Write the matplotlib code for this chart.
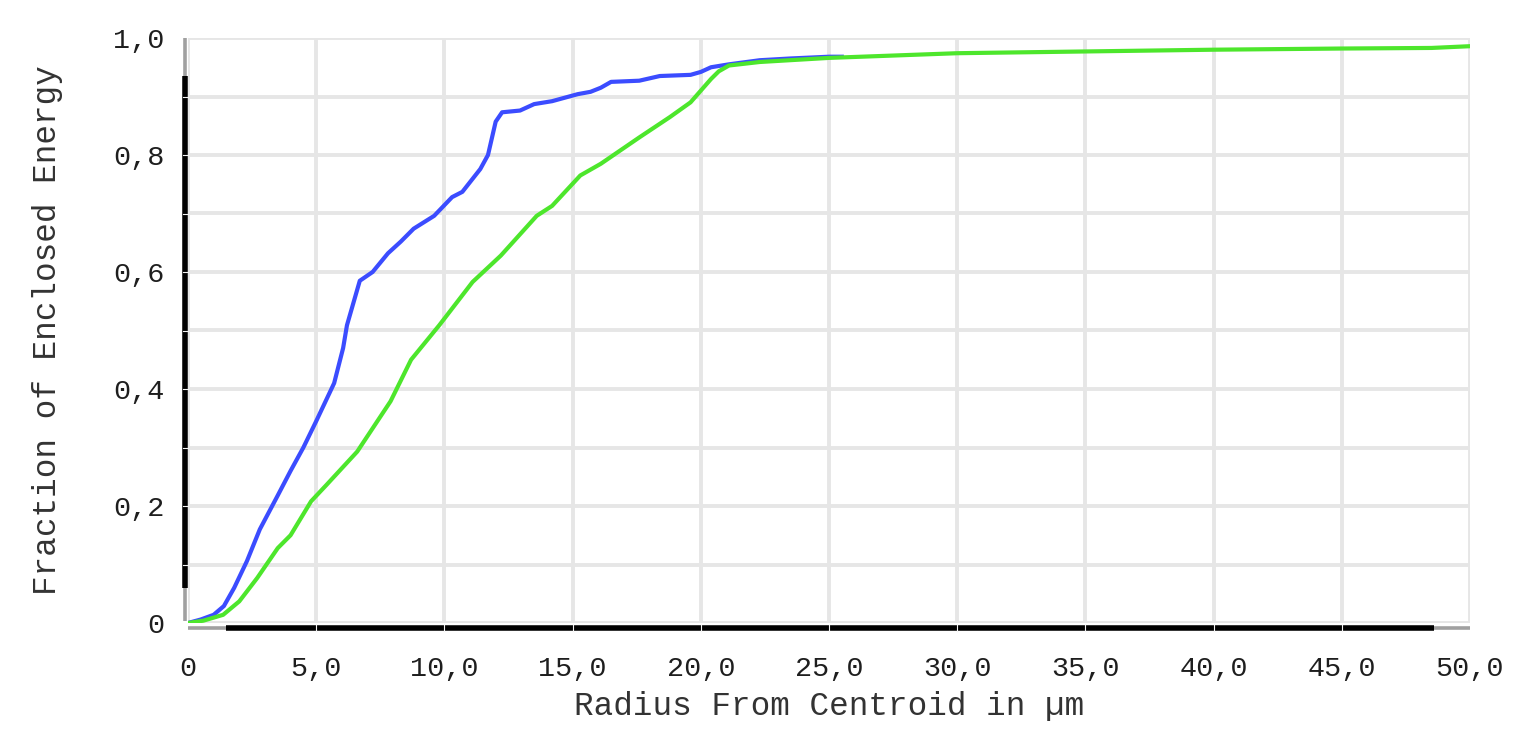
import matplotlib
matplotlib.use("Agg")
import matplotlib.pyplot as plt
from matplotlib.ticker import MultipleLocator, FuncFormatter

# Data
blue_x = [0.0, 0.5, 1.0, 1.4, 1.8, 2.3, 2.8, 3.5, 4.0, 4.5, 5.0, 5.7, 6.05, 6.2, 6.7, 7.2,
          7.8, 8.3, 8.8, 9.6, 10.3, 10.7, 11.4, 11.7, 12.0, 12.25, 12.95, 13.5, 14.2, 15.2,
          15.7, 16.1, 16.5, 17.6, 18.4, 19.6, 20.0, 20.4, 21.1, 22.3, 23.5, 25.0, 25.5]
blue_y = [0.0, 0.006, 0.014, 0.029, 0.06, 0.106, 0.16, 0.218, 0.26, 0.30, 0.345, 0.41, 0.47,
          0.509, 0.585, 0.60, 0.632, 0.652, 0.674, 0.696, 0.728, 0.737, 0.776, 0.80, 0.857,
          0.873, 0.876, 0.887, 0.892, 0.904, 0.908, 0.915, 0.925, 0.927, 0.935, 0.937, 0.942,
          0.950, 0.955, 0.962, 0.965, 0.968, 0.968]

green_x = [0.0, 0.6, 1.37, 2.0, 2.7, 3.5, 4.0, 4.8, 5.4, 6.6, 7.9, 8.7, 9.8, 11.1, 12.2,
           13.6, 14.2, 15.3, 16.1, 17.6, 18.8, 19.6, 20.0, 20.4, 20.7, 21.1, 22.3, 25.0,
           30.0, 35.0, 40.0, 45.0, 48.5, 50.0]
green_y = [0.0, 0.004, 0.014, 0.037, 0.077, 0.128, 0.15, 0.208, 0.236, 0.293, 0.379, 0.45,
           0.509, 0.583, 0.628, 0.696, 0.713, 0.765, 0.785, 0.83, 0.865, 0.89, 0.91, 0.93,
           0.943, 0.953, 0.959, 0.966, 0.974, 0.977, 0.980, 0.982, 0.983, 0.986]

x_ticks = [0, 5, 10, 15, 20, 25, 30, 35, 40, 45, 50]
y_ticks = [0, 0.2, 0.4, 0.6, 0.8, 1.0]
y_grid = [0.1, 0.2, 0.3, 0.4, 0.5, 0.6, 0.7, 0.8, 0.9]

fig = plt.figure(figsize=(15.32, 7.38), dpi=100)
ax = fig.add_axes([188 / 1532, 1 - 623 / 738, (1470 - 188) / 1532, (623 - 38) / 738])

mono = "Liberation Mono"
ax.set_xlim(0, 50)
ax.set_ylim(0, 1.0)
ax.set_xticks(x_ticks)
ax.set_yticks(y_ticks)
ax.yaxis.set_minor_locator(MultipleLocator(0.1))

def fmt(v, pos):
    if abs(v) < 1e-9:
        return "0"
    return f"{v:.1f}".replace(".", ",")

ax.xaxis.set_major_formatter(FuncFormatter(fmt))
ax.yaxis.set_major_formatter(FuncFormatter(fmt))

ax.grid(True, which="both", color="#e6e6e6", linewidth=2.8)
ax.set_axisbelow(True)
ax.tick_params(which="both", length=0)
ax.tick_params(axis="x", pad=24, labelsize=20.5, labelcolor="#1e1e1e")
ax.tick_params(axis="y", pad=17, labelsize=20.5, labelcolor="#1e1e1e")
for lab in ax.get_xticklabels() + ax.get_yticklabels():
    lab.set_family(mono)

for s in ["top", "right", "left", "bottom"]:
    ax.spines[s].set_visible(False)

# thick axis lines with gray end segments
kw = dict(clip_on=False, zorder=3, solid_capstyle="butt")
ax.plot([-0.1, -0.1], [0.06, 0.935], color="black", lw=4, **kw)
ax.plot([-0.1, -0.1], [0.935, 1.0], color="#a0a0a0", lw=2.6, **kw)
ax.plot([-0.1, -0.1], [0.003, 0.06], color="#a0a0a0", lw=2.6, **kw)
ax.plot([1.5, 48.6], [-0.009, -0.009], color="black", lw=4, **kw)
ax.plot([0, 1.5], [-0.009, -0.009], color="#a0a0a0", lw=2.6, **kw)
ax.plot([48.6, 50], [-0.009, -0.009], color="#a0a0a0", lw=2.6, **kw)
# small light notches in the axis lines at grid positions
for yv in y_grid:
    ax.plot([-0.2, 0.0], [yv, yv], color="#f4f4f4", lw=0.8, clip_on=False, zorder=3.5)
for xv in x_ticks[1:-1]:
    ax.plot([xv, xv], [-0.014, -0.004], color="#f4f4f4", lw=0.8, clip_on=False, zorder=3.5)

ax.plot(blue_x, blue_y, color="#3b4cff", lw=3.0, zorder=4)
ax.plot(green_x, green_y, color="#4de62c", lw=3.0, zorder=5)

ax.set_xlabel("Radius From Centroid in µm", fontsize=23.5, family=mono, color="#333333", labelpad=6)
ax.set_ylabel("Fraction of Enclosed Energy", fontsize=23.5, family=mono, color="#333333", labelpad=36)

fig.savefig("out.png", dpi=100)
